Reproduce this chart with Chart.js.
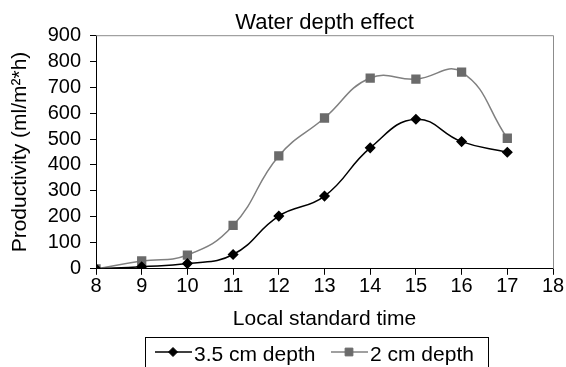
<!DOCTYPE html>
<html>
<head>
<meta charset="utf-8">
<script src="https://cdn.jsdelivr.net/npm/chart.js@4.4.0/dist/chart.umd.min.js"></script>
<style>
  html, body { margin: 0; padding: 0; background: #fff; }
  #wrap { width: 566px; height: 367px; }
</style>
</head>
<body>
<div id="wrap"><canvas id="chart" width="566" height="367"></canvas></div>
<script>
// values
const hours = [8, 9, 10, 11, 12, 13, 14, 15, 16, 17];
const depth35 = [0, 8, 20, 55, 203, 280, 466, 576, 490, 449];
const depth2 = [0, 30, 53, 167, 435, 581, 735, 731, 758, 503];
const seriesNames = ['3.5 cm depth', '2 cm depth'];

const FONT = "'Liberation Sans', Arial, sans-serif";

// gray top/right frame plus a boxed legend like the original
const frameAndLegend = {
    id: 'frameAndLegend',
    beforeDatasetsDraw(chart) {
        const { ctx, chartArea: a } = chart;
        ctx.save();
        ctx.strokeStyle = '#8c8c8c';
        ctx.lineWidth = 1;
        ctx.beginPath();
        ctx.moveTo(a.left, a.top + 0.5);
        ctx.lineTo(a.right + 0.5, a.top + 0.5);
        ctx.lineTo(a.right + 0.5, a.bottom);
        ctx.stroke();
        ctx.restore();
    },
    afterDraw(chart) {
        const ctx = chart.ctx;
        ctx.save();
        ctx.strokeStyle = '#000';
        ctx.lineWidth = 1;
        ctx.strokeRect(145.5, 337.5, 343, 40);

        const starts = [155, 331];
        const y = 352;
        chart.data.datasets.forEach((ds, i) => {
            const x0 = starts[i];
            ctx.strokeStyle = ds.borderColor;
            ctx.lineWidth = ds.borderWidth;
            ctx.beginPath();
            ctx.moveTo(x0, y);
            ctx.lineTo(x0 + 37, y);
            ctx.stroke();
            ctx.fillStyle = ds.pointBackgroundColor;
            ctx.strokeStyle = ds.pointBorderColor;
            ctx.lineWidth = 1;
            Chart.helpers.drawPoint(ctx, { pointStyle: ds.pointStyle, radius: ds.pointRadius, rotation: 0, borderWidth: 1 }, x0 + 18, y);
            ctx.fillStyle = '#000';
            ctx.font = '21px ' + FONT;
            ctx.textBaseline = 'alphabetic';
            ctx.textAlign = 'left';
            ctx.fillText(ds.label, x0 + 39, 361);
        });
        ctx.restore();
    }
};

new Chart(document.getElementById('chart'), {
    type: 'line',
    data: {
        datasets: [{
            label: seriesNames[0],
            data: hours.map((h, i) => ({ x: h, y: depth35[i] })),
            borderColor: '#000',
            borderWidth: 1.5,
            pointStyle: 'rectRot',
            pointRadius: 4.5,
            pointBackgroundColor: '#000',
            pointBorderColor: '#000',
            tension: 0.45
        }, {
            label: seriesNames[1],
            data: hours.map((h, i) => ({ x: h, y: depth2[i] })),
            borderColor: '#808080',
            borderWidth: 1.5,
            pointStyle: 'rect',
            pointRadius: 5.5,
            pointBackgroundColor: '#6b6b6b',
            pointBorderColor: '#6b6b6b',
            tension: 0.45
        }]
    },
    options: {
        responsive: false,
        animation: false,
        layout: { padding: { left: 0, right: 13, top: 0, bottom: 33 } },
        plugins: {
            legend: { display: false },
            tooltip: { enabled: false },
            title: {
                display: true,
                fullSize: false,
                text: 'Water depth effect',
                color: '#000',
                font: { family: FONT, size: 22, weight: 'normal', lineHeight: 1.1 },
                padding: { top: 11, bottom: 0 }
            }
        },
        scales: {
            x: {
                type: 'linear',
                min: 8,
                max: 18,
                ticks: { stepSize: 1, autoSkip: false, color: '#000', padding: 0, font: { family: FONT, size: 20 } },
                grid: { display: true, drawOnChartArea: false, tickLength: 6, color: '#000' },
                border: { color: '#000', width: 1 },
                title: {
                    display: true,
                    text: 'Local standard time',
                    color: '#000',
                    font: { family: FONT, size: 21 },
                    padding: { top: 8, bottom: 2 }
                }
            },
            y: {
                min: 0,
                max: 900,
                ticks: { stepSize: 100, autoSkip: false, color: '#000', padding: 9, font: { family: FONT, size: 20 } },
                grid: { display: true, drawOnChartArea: false, tickLength: 6, color: '#000' },
                border: { color: '#000', width: 1 },
                title: {
                    display: true,
                    text: 'Productivity (ml/m²*h)',
                    color: '#000',
                    font: { family: FONT, size: 21 },
                    padding: { top: 8, bottom: 0 }
                },
                afterFit(scale) { scale.width = 96; }
            }
        }
    },
    plugins: [frameAndLegend]
});
</script>
</body>
</html>
